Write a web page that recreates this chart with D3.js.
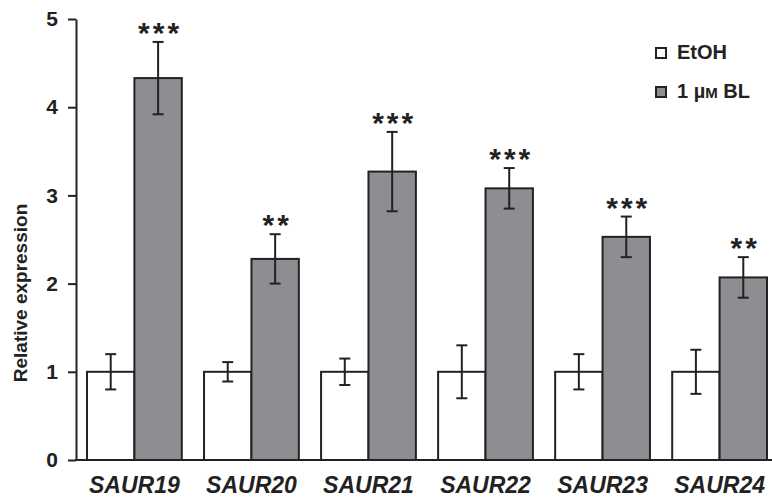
<!DOCTYPE html>
<html lang="en">
<head>
    <meta charset="UTF-8">
    <title>Relative expression</title>
    <script src="https://cdn.jsdelivr.net/npm/d3@7"></script>
    <style>
        body { margin: 0; background: #fff; }
        text { font-family: Arial, "Liberation Sans", sans-serif; fill: #222; }
    </style>
</head>
<body>
    <div id="chart-space"></div>

    <script>
        // data
        var genes = ["SAUR19", "SAUR20", "SAUR21", "SAUR22", "SAUR23", "SAUR24"];
        var series = ["EtOH", "BL"];
        var etohMean = [1, 1, 1, 1, 1, 1];
        var etohErr = [0.20, 0.11, 0.15, 0.30, 0.20, 0.25];
        var blMean = [4.33, 2.28, 3.27, 3.08, 2.53, 2.07];
        var blErr = [0.41, 0.28, 0.45, 0.23, 0.23, 0.23];
        var stars = ["***", "**", "***", "***", "***", "**"];
        var yTicks = [0, 1, 2, 3, 4, 5];

        var width = 772;
        var height = 500;
        var axisX = 76, axisTop = 19, axisBottom = 460;

        var svg = d3.select("#chart-space")
            .append("svg")
            .attr("width", width)
            .attr("height", height);

        var x0 = d3.scaleBand()
            .domain(genes)
            .range([axisX, 778])
            .paddingInner(0.19)
            .paddingOuter(0.094);

        var x1 = d3.scaleBand()
            .domain(series)
            .range([0, x0.bandwidth()]);

        var yScale = d3.scaleLinear()
            .domain([0, 5])
            .range([axisBottom, axisTop]);

        // flatten into one row per bar
        var bars = [];
        genes.forEach(function(g, i) {
            bars.push({gene: g, s: "EtOH", v: etohMean[i], e: etohErr[i]});
            bars.push({gene: g, s: "BL", v: blMean[i], e: blErr[i], star: stars[i]});
        });

        svg.selectAll("rect.bar")
            .data(bars)
            .join("rect")
            .attr("class", "bar")
            .attr("x", function(d) { return x0(d.gene) + x1(d.s); })
            .attr("y", function(d) { return yScale(d.v); })
            .attr("width", x1.bandwidth())
            .attr("height", function(d) { return axisBottom - yScale(d.v); })
            .attr("fill", function(d) { return d.s == "EtOH" ? "#fff" : "#8d8e91"; })
            .attr("stroke", "#222")
            .attr("stroke-width", 2);

        // error bars
        var cap = 5.5;
        var err = svg.selectAll("g.err")
            .data(bars)
            .join("g")
            .attr("class", "err")
            .attr("stroke", "#222")
            .attr("stroke-width", 2)
            .attr("transform", function(d) {
                return "translate(" + (x0(d.gene) + x1(d.s) + x1.bandwidth() / 2) + ",0)";
            });
        err.append("line")
            .attr("y1", function(d) { return yScale(d.v + d.e); })
            .attr("y2", function(d) { return yScale(d.v - d.e); });
        err.append("line")
            .attr("x1", -cap).attr("x2", cap)
            .attr("y1", function(d) { return yScale(d.v + d.e); })
            .attr("y2", function(d) { return yScale(d.v + d.e); });
        err.append("line")
            .attr("x1", -cap).attr("x2", cap)
            .attr("y1", function(d) { return yScale(d.v - d.e); })
            .attr("y2", function(d) { return yScale(d.v - d.e); });

        // significance stars
        svg.selectAll("text.star")
            .data(bars.filter(function(d) { return d.star; }))
            .join("text")
            .attr("class", "star")
            .attr("x", function(d) { return x0(d.gene) + x1(d.s) + x1.bandwidth() / 2 + 2; })
            .attr("y", function(d) { return yScale(d.v + d.e) + 1; })
            .attr("text-anchor", "middle")
            .style("font-size", "30px")
            .style("font-weight", "bold")
            .style("letter-spacing", "3px")
            .text(function(d) { return d.star; });

        // y axis
        var yAxis = svg.append("g")
            .attr("transform", "translate(" + axisX + ",0)")
            .call(d3.axisLeft(yScale).tickValues(yTicks).tickFormat(d3.format("d"))
                .tickSize(8).tickSizeOuter(0).tickPadding(10));
        yAxis.selectAll("path, line").attr("stroke", "#222").attr("stroke-width", 2);
        yAxis.selectAll("text")
            .style("font-size", "21px")
            .style("font-weight", "bold")
            .attr("fill", "#222");

        // x axis line and labels
        var xAxis = svg.append("g")
            .attr("transform", "translate(0," + axisBottom + ")")
            .call(d3.axisBottom(x0).tickSize(0).tickSizeOuter(0));
        xAxis.select(".domain")
            .attr("d", "M" + (axisX - 1) + ",0H" + width)
            .attr("stroke", "#222").attr("stroke-width", 2);
        xAxis.selectAll("text")
            .attr("dy", "0")
            .attr("y", 33)
            .style("font-size", "23px")
            .style("font-weight", "bold")
            .style("font-style", "italic")
            .attr("fill", "#222");

        // y axis title
        svg.append("text")
            .attr("transform", "translate(27,293) rotate(-90)")
            .attr("text-anchor", "middle")
            .style("font-size", "19px")
            .style("font-weight", "bold")
            .text("Relative expression");

        // legend
        var legendLabels = ["EtOH", "1 µ|M| BL"];
        var legendFill = ["#fff", "#8d8e91"];
        var legend = svg.selectAll("g.legend")
            .data(legendLabels)
            .join("g")
            .attr("class", "legend")
            .attr("transform", function(d, i) { return "translate(656," + (48 + i * 39) + ")"; });
        legend.append("rect")
            .attr("width", 10).attr("height", 10)
            .attr("fill", function(d, i) { return legendFill[i]; })
            .attr("stroke", "#222")
            .attr("stroke-width", 2);
        legend.append("text")
            .attr("x", 21)
            .attr("y", 11)
            .style("font-size", "20px")
            .style("font-weight", "bold")
            .each(function(d) {
                var t = d3.select(this);
                d.split("|").forEach(function(part, k) {
                    t.append("tspan")
                        .style("font-size", k == 1 ? "15px" : null)
                        .text(part);
                });
            });
    </script>
</body>
</html>
